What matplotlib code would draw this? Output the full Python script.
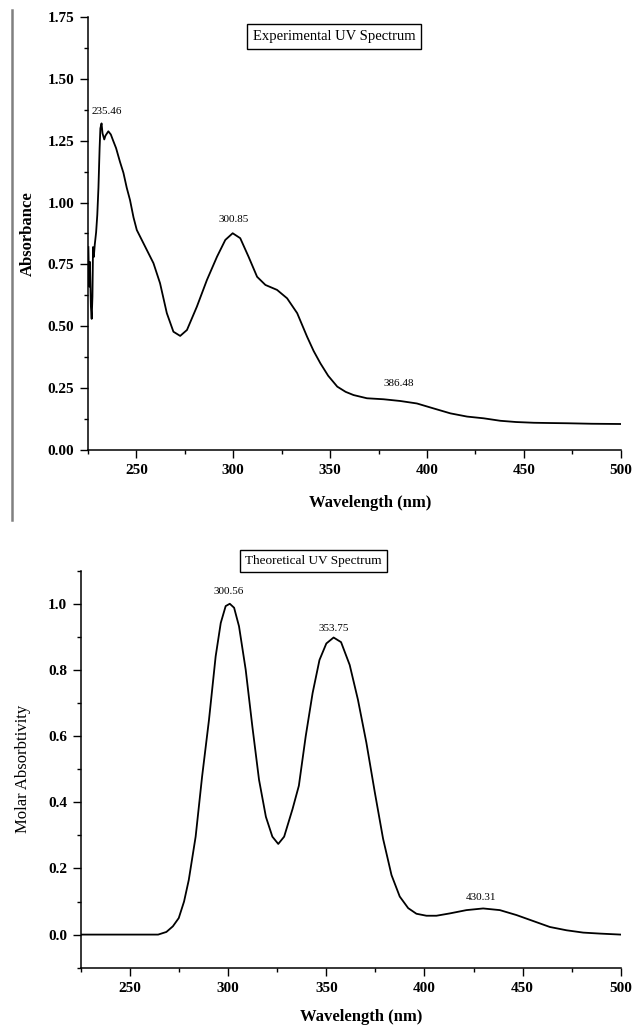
import matplotlib
matplotlib.use("Agg")
import matplotlib.pyplot as plt
from matplotlib.ticker import MultipleLocator, FormatStrFormatter
from matplotlib.lines import Line2D

plt.rcParams["font.family"] = ["Liberation Serif", "DejaVu Serif"]

# experimental spectrum
exp_wl = [225.2, 225.6, 226.0, 226.5, 226.9, 227.3, 227.6, 228.0, 228.5, 229.2, 229.8,
          230.4, 231.0, 231.4, 232.0, 232.5, 233.4, 234.0, 235.5, 236.8, 238.0, 239.5,
          241.5, 243.3, 245.0, 246.7, 248.5, 250.2, 254.5, 258.8, 262.2, 265.7, 269.1,
          272.6, 276.1, 281.2, 286.4, 291.6, 295.9, 299.7, 303.6, 307.9, 312.3, 316.6,
          322.6, 327.8, 333.0, 338.1, 341.5, 345.0, 349.0, 353.7, 358.0, 362.1, 369.0,
          377.6, 386.2, 394.8, 403.4, 412.1, 420.7, 429.3, 437.9, 446.0, 455.2, 463.0,
          472.4, 485.0, 500.0]
exp_abs = [0.82, 0.66, 0.76, 0.58, 0.53, 0.62, 0.82, 0.78, 0.83, 0.88, 0.95,
           1.06, 1.22, 1.30, 1.32, 1.28, 1.255, 1.27, 1.288, 1.275, 1.25, 1.22,
           1.165, 1.12, 1.06, 1.01, 0.94, 0.889, 0.822, 0.755, 0.674, 0.553, 0.478,
           0.461, 0.485, 0.579, 0.687, 0.781, 0.849, 0.876, 0.856, 0.781, 0.700, 0.667,
           0.647, 0.613, 0.553, 0.458, 0.40, 0.35, 0.30, 0.256, 0.235, 0.222, 0.209,
           0.205, 0.198, 0.188, 0.168, 0.148, 0.135, 0.128, 0.118, 0.113, 0.110, 0.109,
           0.108, 0.106, 0.105]
exp_peaks = ["235.46", "300.85", "386.48"]
exp_peak_x = [234.8, 300.0, 385.4]
exp_peak_y = [1.366, 0.93, 0.27]

# theoretical spectrum
th_wl = [225.0, 250.0, 264.3, 268.5, 271.8, 274.8, 277.5, 279.9, 283.4, 286.7, 290.2,
         293.6, 296.2, 298.7, 300.8, 303.0, 305.5, 308.9, 312.3, 315.7, 319.2, 322.5,
         325.5, 328.5, 332.8, 336.0, 339.5, 343.0, 346.5, 350.0, 353.7, 357.5, 361.9,
         366.1, 370.4, 374.7, 378.9, 383.2, 387.4, 391.7, 395.9, 401.0, 406.1, 412.9,
         421.4, 429.9, 438.4, 446.9, 455.4, 463.9, 472.4, 480.9, 489.5, 500.0]
th_eps = [0.0, 0.0, 0.0, 0.008, 0.025, 0.05, 0.10, 0.165, 0.296, 0.478, 0.649,
          0.841, 0.942, 0.993, 1.0, 0.988, 0.932, 0.801, 0.629, 0.468, 0.356, 0.296,
          0.274, 0.296, 0.380, 0.45, 0.60, 0.73, 0.83, 0.88, 0.898, 0.884, 0.815,
          0.71, 0.58, 0.43, 0.29, 0.18, 0.115, 0.08, 0.063, 0.057, 0.057, 0.064,
          0.074, 0.079, 0.074, 0.059, 0.041, 0.023, 0.013, 0.006, 0.003, 0.0]
th_peaks = ["300.56", "353.75", "430.31"]
th_peak_x = [300.0, 353.6, 429.0]
th_peak_y = [1.037, 0.925, 0.111]

fig = plt.figure(figsize=(6.33, 10.29), dpi=100)

ax1 = fig.add_axes([0.139, 0.5627, 0.8415, 0.4208])
ax2 = fig.add_axes([0.128, 0.0596, 0.8526, 0.3858])


def style(ax):
    for s in ["top", "right"]:
        ax.spines[s].set_visible(False)
    for s in ["left", "bottom"]:
        ax.spines[s].set_linewidth(1.1)
    ax.tick_params(which="major", direction="out", length=6, width=1.0,
                   labelsize=11, pad=4)
    ax.tick_params(which="minor", direction="out", length=3, width=1.0)
    for lab in ax.get_xticklabels() + ax.get_yticklabels():
        lab.set_fontweight("bold")


ax1.plot(exp_wl, exp_abs, color="black", lw=1.3)
ax1.set_xlim(225, 500)
ax1.set_ylim(0, 1.75)
ax1.xaxis.set_minor_locator(MultipleLocator(25))
ax1.yaxis.set_major_locator(MultipleLocator(0.25))
ax1.yaxis.set_minor_locator(MultipleLocator(0.125))
ax1.yaxis.set_major_formatter(FormatStrFormatter("%.2f"))
ax1.set_xticks([250, 300, 350, 400, 450, 500])
style(ax1)
ax1.set_ylabel("Absorbance", fontsize=12, fontweight="bold", labelpad=8)
ax1.set_xlabel("Wavelength (nm)", fontsize=12, fontweight="bold")
ax1.xaxis.set_label_coords(0.53, -0.105)
for t, x, y in zip(exp_peaks, exp_peak_x, exp_peak_y):
    ax1.text(x, y, t, fontsize=8, ha="center", va="center")
ax1.text(0.462, 0.955, "Experimental UV Spectrum", transform=ax1.transAxes,
         ha="center", va="center", fontsize=10.5,
         bbox=dict(boxstyle="square,pad=0.4", fc="white", ec="black", lw=1.0))

ax2.plot(th_wl, th_eps, color="black", lw=1.3)
ax2.set_xlim(225, 500)
ax2.set_ylim(-0.1, 1.1)
ax2.set_xticks([250, 300, 350, 400, 450, 500])
ax2.xaxis.set_minor_locator(MultipleLocator(25))
ax2.set_yticks([0.0, 0.2, 0.4, 0.6, 0.8, 1.0])
ax2.yaxis.set_minor_locator(MultipleLocator(0.1))
ax2.yaxis.set_major_formatter(FormatStrFormatter("%.1f"))
style(ax2)
ax2.set_ylabel("Molar Absorbtivity", fontsize=12, labelpad=12)
ax2.set_xlabel("Wavelength (nm)", fontsize=12, fontweight="bold")
ax2.xaxis.set_label_coords(0.52, -0.103)
for t, x, y in zip(th_peaks, th_peak_x, th_peak_y):
    ax2.text(x, y, t, fontsize=8, ha="center", va="center")
fig.text(0.495, 0.4548, "Theoretical UV Spectrum", ha="center", va="center",
         fontsize=9.5,
         bbox=dict(boxstyle="square,pad=0.4", fc="white", ec="black", lw=1.0))

# grey border line on the left of the upper panel
fig.add_artist(Line2D([12 / 633, 12 / 633], [1 - 10 / 1029, 1 - 520 / 1029],
                      transform=fig.transFigure, color="0.5", lw=1.8))

fig.savefig("out.png", dpi=100)
